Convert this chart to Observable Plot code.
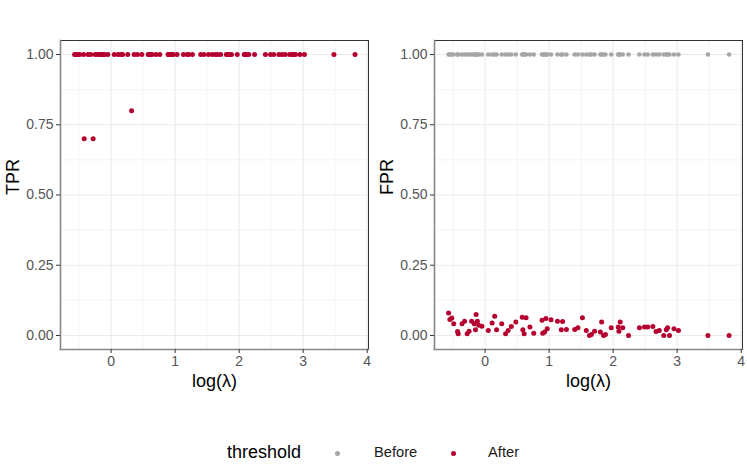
<!DOCTYPE html>
<html><head><meta charset="utf-8">
<script src="https://cdn.jsdelivr.net/npm/d3@7"></script>
<script src="https://cdn.jsdelivr.net/npm/@observablehq/plot@0.6"></script>
<style>
body{margin:0;background:#fff;font-family:"Liberation Sans",Arial,sans-serif;}
#row{display:flex;width:747px;}
#row svg{overflow:visible;}
#legend{position:relative;width:747px;height:63px;}
#legend span{position:absolute;white-space:nowrap;line-height:1;}
#legend .dot{width:5px;height:5px;border-radius:50%;}
</style></head><body>
<div id="row"></div><div id="legend"></div>
<script>
const logLambda = [-0.57,-0.55,-0.52,-0.49,-0.43,-0.42,-0.36,-0.32,-0.28,-0.25,-0.21,-0.17,-0.15,-0.14,-0.12,-0.10,-0.05,
  0.05,0.11,0.15,0.18,0.26,0.32,0.36,0.41,0.48,
  0.58,0.59,0.61,0.64,0.70,0.76,0.89,0.90,0.93,0.95,0.97,
  1.03,1.13,1.19,1.21,1.27,
  1.40,1.45,1.52,1.58,1.63,1.66,1.71,1.80,1.82,1.85,1.88,
  1.97,2.08,2.09,2.11,2.15,2.24,
  2.41,2.49,2.54,2.62,2.67,2.72,2.79,2.83,2.85,2.88,2.95,3.02,
  3.48,3.81];
const tpr = [1,1,1,1,1,0.7,1,1,0.7,1,1,1,1,1,1,1,1,
  1,1,1,1,1,0.8,1,1,1,
  1,1,1,1,1,1,1,1,1,1,1,
  1,1,1,1,1,
  1,1,1,1,1,1,1,1,1,1,1,
  1,1,1,1,1,1,
  1,1,1,1,1,1,1,1,1,1,1,1,
  1,1];
const fprBefore = [1,1,1,1,1,1,1,1,1,1,1,1,1,1,1,1,1,
  1,1,1,1,1,1,1,1,1,
  1,1,1,1,1,1,1,1,1,1,1,
  1,1,1,1,1,
  1,1,1,1,1,1,1,1,1,1,1,
  1,1,1,1,1,1,
  1,1,1,1,1,1,1,1,1,1,1,1,
  1,1];
const fprAfter = [0.080,0.057,0.062,0.042,0.014,0.006,0.042,0.051,0.006,0.015,0.051,0.042,0.020,0.075,0.051,0.036,0.033,
  0.018,0.044,0.068,0.020,0.042,0.006,0.018,0.032,0.048,
  0.065,0.020,0.006,0.063,0.030,0.008,0.054,0.008,0.012,0.060,0.024,
  0.056,0.051,0.020,0.050,0.021,
  0.021,0.027,0.063,0.018,0,0.003,0.015,0.012,0.048,0,0.003,
  0.027,0.030,0.015,0.048,0.027,0,
  0.027,0.030,0.030,0.032,0.014,0.018,0,0.020,0.027,0,0.024,0.018,
  0,0];
const xTicks = [0,1,2,3,4];
const xTickLabels = ["0","1","2","3","4"];
const xMinor = [-0.5,0.5,1.5,2.5,3.5];
const yTicks = [0,0.25,0.5,0.75,1];
const yMinor = [0.125,0.375,0.625,0.875];
const yTickLabels = ["0.00","0.25","0.50","0.75","1.00"];
const seriesNames = ["Before","After"];
const seriesColors = ["#A6A6A6","#B5002F"];
const legendTitle = "threshold";
const xLabel = "log(\u03BB)";

const font = '"Liberation Sans", Arial, sans-serif';
const rows = (ys) => logLambda.map((x,i)=>({x, y: ys[i]}));

function panel(width, marginRight, yLabel, layers){
  return Plot.plot({
    width, height:404, marginTop:40, marginBottom:55, marginLeft:60, marginRight,
    x:{domain:[-0.79,4.02]}, y:{domain:[-0.05,1.05]},
    style:{fontFamily:font, background:"white", overflow:"visible"},
    marks:[
      Plot.ruleX(xMinor,{stroke:"#EEEEEE",strokeWidth:0.6}),
      Plot.ruleY(yMinor,{stroke:"#EEEEEE",strokeWidth:0.6}),
      Plot.ruleX(xTicks,{stroke:"#EBEBEB",strokeWidth:1.1}),
      Plot.ruleY(yTicks,{stroke:"#EBEBEB",strokeWidth:1.1}),
      ...layers,
      Plot.frame({stroke:"#333333",strokeWidth:1}),
      Plot.frame({anchor:"left",stroke:"#888888",strokeWidth:1.6}),
      Plot.frame({anchor:"bottom",stroke:"#888888",strokeWidth:1.6}),
      Plot.axisX({ticks:xTicks, tickFormat:(d)=>xTickLabels[xTicks.indexOf(d)], tickSize:4, tickPadding:3, fontSize:14, label:null, stroke:"#333333", fill:"#555555"}),
      Plot.axisY({ticks:yTicks, tickFormat:(d)=>yTickLabels[yTicks.indexOf(d)], tickSize:4, tickPadding:3, fontSize:14, label:null, stroke:"#333333", fill:"#555555"}),
      Plot.text([yLabel],{frameAnchor:"left", dx:-47, rotate:-90, fontSize:18, fill:"black"}),
      Plot.text([xLabel],{frameAnchor:"bottom", dy:37, fontSize:18, fill:"black"})
    ]
  });
}

const row = document.getElementById("row");
row.append(panel(374, 6, "TPR", [
  Plot.dot(rows(tpr),{x:"x", y:"y", r:2.5, fill:seriesColors[1], stroke:"none"})
]));
row.append(panel(373, 5, "FPR", [
  Plot.dot(rows(fprBefore),{x:"x", y:"y", r:2.3, fill:seriesColors[0], stroke:"none"}),
  Plot.dot(rows(fprAfter),{x:"x", y:"y", r:2.5, fill:seriesColors[1], stroke:"none"})
]));

// legend
const lg = document.getElementById("legend");
function addSpan(text, left, size, color){
  const s = document.createElement("span");
  s.textContent = text; s.style.left = left+"px"; s.style.fontSize = size+"px";
  s.style.color = color; s.style.top = (49 - size*0.55)+"px";
  lg.append(s);
}
function addDot(cx, color){
  const d = document.createElement("span");
  d.className = "dot"; d.style.background = color;
  d.style.left = (cx-2.5)+"px"; d.style.top = (49-2.5)+"px";
  lg.append(d);
}
addSpan(legendTitle, 227, 18, "#000");
addDot(337, seriesColors[0]);
addSpan(seriesNames[0], 374, 14.7, "#1a1a1a");
addDot(453, seriesColors[1]);
addSpan(seriesNames[1], 488, 14.7, "#1a1a1a");
</script>
</body></html>
